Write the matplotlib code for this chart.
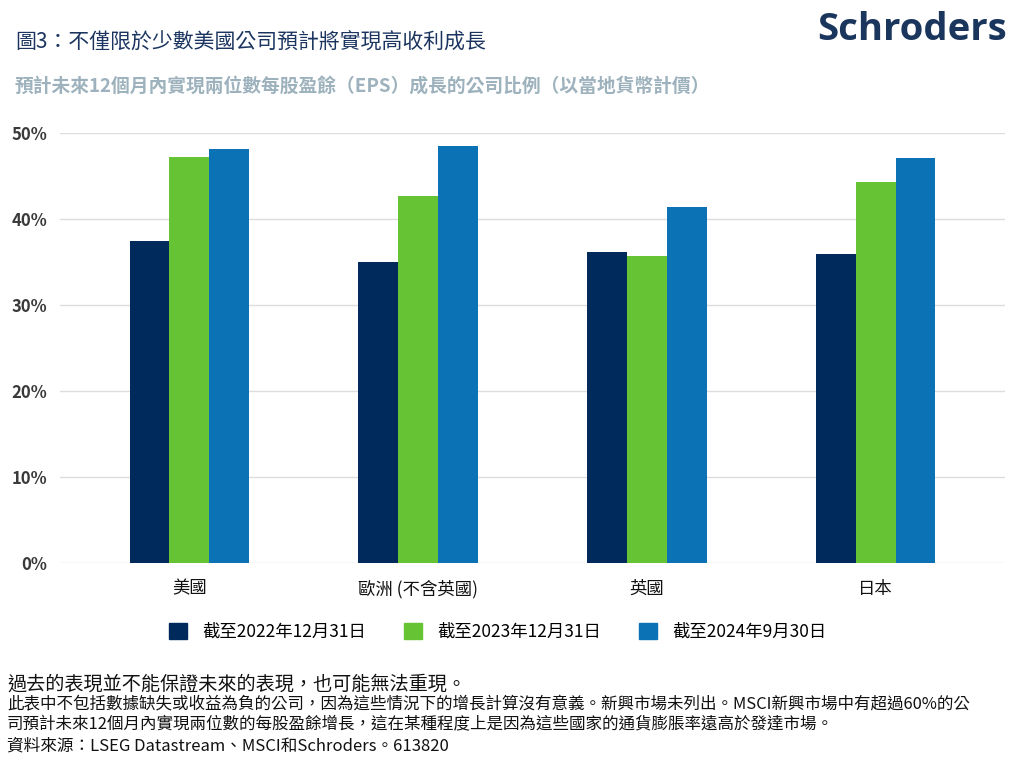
import matplotlib
matplotlib.use("Agg")
import matplotlib.pyplot as plt
import matplotlib.patches as mpatches
import numpy as np

plt.rcParams['font.family'] = ['Noto Sans CJK TC', 'DejaVu Sans']

# Data
regions = ["美國", "歐洲 (不含英國)", "英國", "日本"]
series_labels = ["截至2022年12月31日", "截至2023年12月31日", "截至2024年9月30日"]
eps_2022 = [37.4, 35.0, 36.2, 35.9]
eps_2023 = [47.2, 42.7, 35.7, 44.3]
eps_2024 = [48.1, 48.5, 41.4, 47.1]
colors = ["#002a5c", "#66c333", "#0a72b5"]
y_ticks = [0, 10, 20, 30, 40, 50]

fig = plt.figure(figsize=(10.24, 7.62), dpi=100)
ax = fig.add_axes([60 / 1024, 1 - 563 / 762, 945 / 1024, 430 / 762])

x = np.arange(len(regions))
w = 0.174
for i, vals in enumerate([eps_2022, eps_2023, eps_2024]):
    ax.bar(x + (i - 1) * w, vals, width=w, color=colors[i], zorder=3)

ax.set_xlim(-0.565, 3.565)
ax.set_ylim(0, 50)
ax.set_yticks(y_ticks)
ax.set_yticklabels([f"{t}%" for t in y_ticks], fontsize=12, fontweight='bold', color='#3a3a3a')
ax.grid(axis='y', color='#dddddd', linewidth=1, zorder=0)
ax.tick_params(axis='y', length=0, pad=9)
ax.tick_params(axis='x', length=0, pad=12)
ax.set_xticks(x)
ax.set_xticklabels(regions, fontsize=12.5, color='#111111')
for s in ax.spines.values():
    s.set_visible(False)

# Legend
handles = [mpatches.Patch(color=c) for c in colors]
fig.legend(handles, series_labels, loc='center', bbox_to_anchor=(498 / 1024, 1 - 632 / 762),
           ncol=3, frameon=False, fontsize=12.5, handlelength=1.0, handleheight=1.0,
           handletextpad=0.9, columnspacing=2.2)

# Titles
fig.text(15 / 1024, 1 - 42 / 762, "圖3：不僅限於少數美國公司預計將實現高收利成長",
         fontsize=15, color='#1c3560', va='center', ha='left', fontweight='medium')
fig.text(15 / 1024, 1 - 86 / 762,
         "預計未來12個月內實現兩位數每股盈餘（EPS）成長的公司比例（以當地貨幣計價）",
         fontsize=13.5, color='#9db2bd', va='center', ha='left', fontweight='bold')
fig.text(1007 / 1024, 1 - 30 / 762, "Schroders", fontsize=27.5, fontweight='bold',
         family='Open Sans', color='#1b365d', va='center', ha='right')

# Footer
fig.text(7 / 1024, 1 - 684 / 762, "過去的表現並不能保證未來的表現，也可能無法重現。",
         fontsize=13.8, color='#111111', va='center', ha='left')
fig.text(7 / 1024, 1 - 705 / 762,
         "此表中不包括數據缺失或收益為負的公司，因為這些情況下的增長計算沒有意義。新興市場未列出。MSCI新興市場中有超過60%的公",
         fontsize=11.9, color='#111111', va='center', ha='left')
fig.text(7 / 1024, 1 - 725 / 762,
         "司預計未來12個月內實現兩位數的每股盈餘增長，這在某種程度上是因為這些國家的通貨膨脹率遠高於發達市場。",
         fontsize=11.9, color='#111111', va='center', ha='left')
fig.text(7 / 1024, 1 - 746 / 762, "資料來源：LSEG Datastream、MSCI和Schroders。613820",
         fontsize=12, color='#111111', va='center', ha='left')

fig.savefig("out.png", dpi=100)
